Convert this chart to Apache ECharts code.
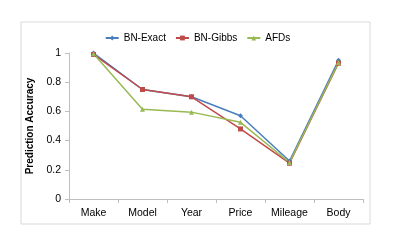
<!DOCTYPE html>
<html><head><meta charset="utf-8">
<script src="https://cdn.jsdelivr.net/npm/echarts@6/dist/echarts.min.js"></script>
<style>html,body{margin:0;padding:0;background:#fff}#c{width:395px;height:247px}</style>
</head><body><div id="c"></div>
<script>
const categories = ['Make','Model','Year','Price','Mileage','Body'];
const bnExact = [1.0, 0.75, 0.70, 0.57, 0.26, 0.95];
const bnGibbs = [0.99, 0.75, 0.70, 0.48, 0.245, 0.93];
const afds = [0.995, 0.615, 0.595, 0.525, 0.25, 0.935];
const yTicks = [0, 0.2, 0.4, 0.6, 0.8, 1];

const font = 'Liberation Sans';
const chart = echarts.init(document.getElementById('c'), null, {renderer:'canvas'});
function s(name, data, color, symbol, size){
  return {name, type:'line', data, symbol, symbolSize:size, showSymbol:true,
    lineStyle:{color, width:1.5}, itemStyle:{color}, animation:false};
}
chart.setOption({
  animation:false,
  textStyle:{fontFamily:font},
  graphic:[{type:'rect', shape:{x:21, y:22, width:349, height:202}, style:{fill:'none', stroke:'#d9d9d9', lineWidth:1}, silent:true, z:-1}],
  legend:{top:28, left:'center', itemWidth:13, itemHeight:6, itemGap:9,
    textStyle:{fontFamily:font, fontSize:10, color:'#000'},
    data:['BN-Exact','BN-Gibbs','AFDs']},
  grid:{left:69, right:32, top:53, bottom:48, containLabel:false},
  xAxis:{type:'category', data:categories, boundaryGap:true,
    axisLine:{lineStyle:{color:'#bfbfbf'}},
    axisTick:{show:true, length:4, interval:0, lineStyle:{color:'#bfbfbf'}},
    axisLabel:{color:'#000', fontSize:10.5, fontFamily:font, margin:9, interval:0}},
  yAxis:{type:'value', min:0, max:1, interval:0.2,
    name:'Prediction Accuracy', nameLocation:'middle', nameGap:28,
    nameTextStyle:{fontWeight:'bold', fontSize:10, color:'#000', fontFamily:font},
    axisLine:{show:true, lineStyle:{color:'#bfbfbf'}},
    axisTick:{show:true, length:4, lineStyle:{color:'#bfbfbf'}},
    splitLine:{show:false},
    axisLabel:{color:'#000', fontSize:10.5, fontFamily:font, margin:8,
      formatter:v=>{const t=yTicks.find(x=>Math.abs(x-v)<1e-9); return t===undefined?'':String(t);}}},
  series:[
    s('BN-Exact', bnExact, '#4a7ebb', 'diamond', 5),
    s('BN-Gibbs', bnGibbs, '#be4b48', 'rect', 5),
    s('AFDs', afds, '#98b954', 'triangle', 5)
  ]
});
</script></body></html>
